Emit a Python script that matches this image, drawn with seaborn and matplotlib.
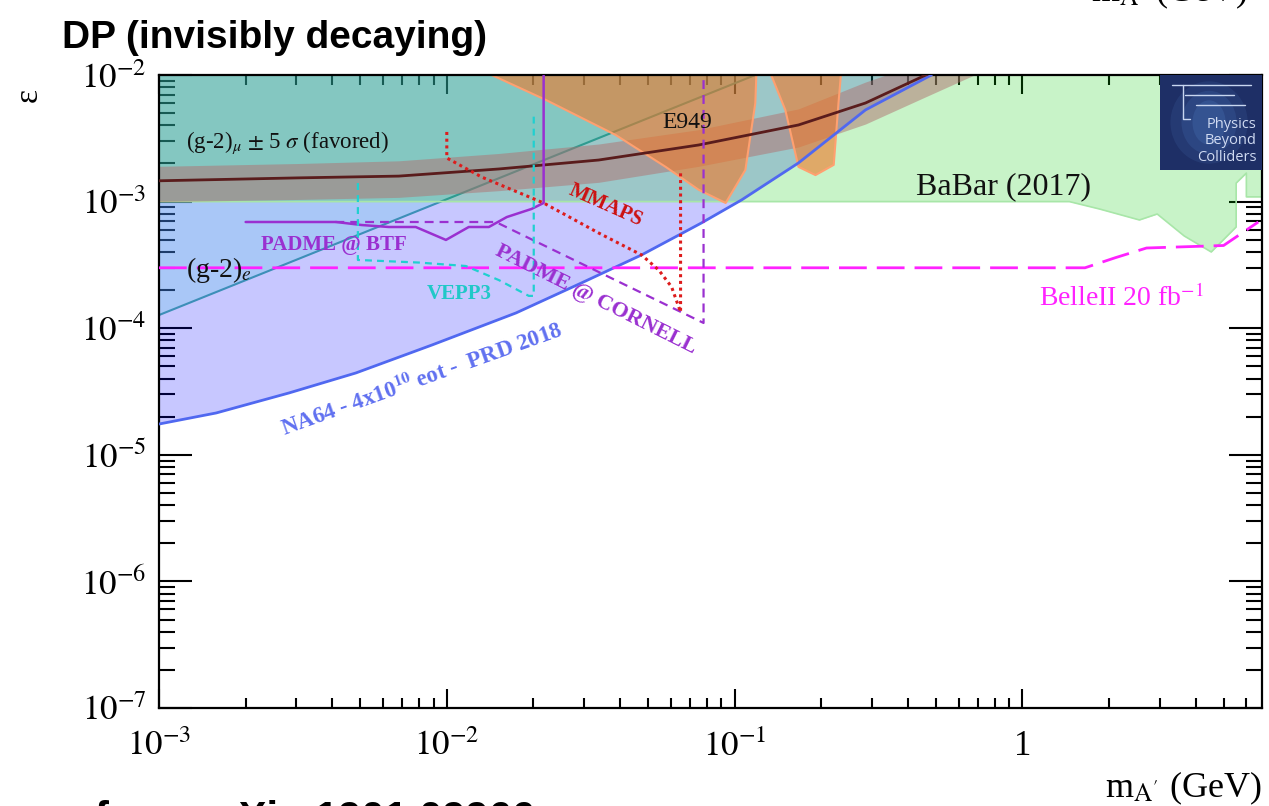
import numpy as np
import pandas as pd
import matplotlib
matplotlib.use("Agg")
import matplotlib.pyplot as plt
import seaborn as sns
from matplotlib.ticker import FixedLocator, FixedFormatter, LogLocator, NullFormatter
from matplotlib.patches import Rectangle, Ellipse

# ---------------- data ----------------
x_ticks = [1e-3, 1e-2, 1e-1, 1.0]
x_tick_labels = [r'$10^{-3}$', r'$10^{-2}$', r'$10^{-1}$', '1']
y_ticks = [1e-7, 1e-6, 1e-5, 1e-4, 1e-3, 1e-2]
y_tick_labels = [r'$10^{-7}$', r'$10^{-6}$', r'$10^{-5}$', r'$10^{-4}$', r'$10^{-3}$', r'$10^{-2}$']

na64_m = [1e-3, 1.58e-3, 2.83e-3, 4.83e-3, 8.87e-3, 0.0174, 0.0294, 0.0475, 0.0767, 0.1057, 0.1667, 0.285, 0.483]
na64_eps = [1.75e-5, 2.14e-5, 3.08e-5, 4.43e-5, 7.36e-5, 1.32e-4, 2.28e-4, 3.79e-4, 6.78e-4, 1.03e-3, 2.02e-3, 5.30e-3, 1.0e-2]

g2e_m = [1e-3, 0.118]
g2e_eps = [1.27e-4, 1.0e-2]

babar_m = [1e-3, 1.456, 1.85, 2.55, 2.94, 3.65, 4.53, 5.53, 5.53, 6.0, 6.0, 6.8]
babar_eps = [1.0e-3, 1.0e-3, 8.75e-4, 7.16e-4, 7.98e-4, 5.35e-4, 4.0e-4, 6.3e-4, 1.40e-3, 1.68e-3, 1.09e-3, 1.09e-3]

gm2mu_m = [1e-3, 3.06e-3, 6.81e-3, 0.01516, 0.0337, 0.075, 0.1667, 0.285, 0.446, 0.68]
gm2mu_center = [1.46e-3, 1.54e-3, 1.59e-3, 1.81e-3, 2.13e-3, 2.80e-3, 4.03e-3, 6.01e-3, 9.64e-3, 1.5e-2]
gm2mu_upper = [1.9e-3, 2.0e-3, 2.1e-3, 2.4e-3, 2.85e-3, 3.7e-3, 5.4e-3, 8.8e-3, 1.25e-2, 2.0e-2]
gm2mu_lower = [1.0e-3, 1.04e-3, 1.08e-3, 1.22e-3, 1.42e-3, 1.9e-3, 2.7e-3, 4.1e-3, 6.5e-3, 1.0e-2]

e949_lobe1_m = [0.01432, 0.0221, 0.0386, 0.0576, 0.075, 0.0931, 0.109, 0.118, 0.119]
e949_lobe1_eps = [1.0e-2, 6.35e-3, 3.36e-3, 1.88e-3, 1.24e-3, 9.75e-4, 1.78e-3, 6.0e-3, 1.0e-2]
e949_lobe2_m = [0.134, 0.150, 0.1667, 0.191, 0.221, 0.2296, 0.234]
e949_lobe2_eps = [1.0e-2, 5.30e-3, 1.88e-3, 1.62e-3, 1.95e-3, 6.0e-3, 1.0e-2]

belle_m = [1e-3, 1.65, 2.1, 2.7, 5.0, 6.6]
belle_eps = [3.0e-4, 3.0e-4, 3.6e-4, 4.3e-4, 4.5e-4, 6.9e-4]

padme_btf_m = [2.0e-3, 4.12e-3, 5.07e-3, 6.29e-3, 7.8e-3, 9.93e-3, 0.01192, 0.0140, 0.01616, 0.0197, 0.0217, 0.0217]
padme_btf_eps = [6.9e-4, 6.9e-4, 6.53e-4, 6.3e-4, 6.3e-4, 4.98e-4, 6.3e-4, 6.3e-4, 7.55e-4, 8.75e-4, 9.75e-4, 1.0e-2]

padme_cornell_m = [4.1e-3, 0.0148, 0.078, 0.078]
padme_cornell_eps = [6.9e-4, 6.9e-4, 1.10e-4, 1.0e-2]

vepp3_m = [4.91e-3, 4.91e-3, 8.0e-3, 0.01164, 0.01516, 0.01927, 0.02005, 0.02005]
vepp3_eps = [1.40e-3, 3.46e-4, 3.30e-4, 3.10e-4, 2.40e-4, 1.80e-4, 1.80e-4, 5.0e-3]

mmaps_m = [0.01, 0.01, 0.01324, 0.0217, 0.0337, 0.0475, 0.0545, 0.0604, 0.0649, 0.0649]
mmaps_eps = [3.55e-3, 2.21e-3, 1.56e-3, 9.75e-4, 5.65e-4, 3.79e-4, 2.88e-4, 2.12e-4, 1.34e-4, 1.78e-3]

EPS_TOP = 1e-2

# ---------------- style ----------------
sns.set_style("ticks")
plt.rcParams['font.family'] = ['Liberation Serif', 'DejaVu Serif']
plt.rcParams['mathtext.fontset'] = 'stix'
plt.rcParams['text.color'] = 'black'
plt.rcParams['axes.labelcolor'] = 'black'
plt.rcParams['xtick.color'] = 'black'
plt.rcParams['ytick.color'] = 'black'

fig = plt.figure(figsize=(12.69, 8.06), dpi=100)
ax = fig.add_axes([159 / 1269, 98 / 806, 1103 / 1269, 633 / 806])
ax.set_xscale('log')
ax.set_yscale('log')

# ---------------- filled regions ----------------
ax.fill_between(na64_m, na64_eps, EPS_TOP, color=(0.0, 0.0, 1.0), alpha=0.22, lw=0, zorder=1.0)
ax.fill_between(g2e_m, g2e_eps, EPS_TOP, color=(100/255, 200/255, 230/255), alpha=0.30, lw=0, zorder=1.05)

def line(mx, ey, **kw):
    df = pd.DataFrame({'m': mx, 'eps': ey})
    sns.lineplot(data=df, x='m', y='eps', sort=False, estimator=None, ax=ax, **kw)

line(g2e_m, g2e_eps, color='#3d8fb8', lw=1.5, zorder=1.07)

ax.fill_between(babar_m, babar_eps, EPS_TOP, color=(0.0, 200/255, 0.0), alpha=0.216, lw=0, zorder=1.1)
line(babar_m, babar_eps, color='#a8e6a8', lw=1.2, zorder=1.12)

ax.fill_between(gm2mu_m, gm2mu_lower, gm2mu_upper, color=(176/255, 112/255, 112/255), alpha=0.5, lw=0, zorder=1.2)

ax.fill(e949_lobe1_m, e949_lobe1_eps, facecolor=(240/255, 120/255, 40/255), alpha=0.6,
        edgecolor='none', zorder=1.3)
ax.fill(e949_lobe2_m, e949_lobe2_eps, facecolor=(240/255, 120/255, 40/255), alpha=0.6,
        edgecolor='none', zorder=1.3)
line(e949_lobe1_m, e949_lobe1_eps, color='#ffa070', lw=1.5, zorder=1.32)
line(e949_lobe2_m, e949_lobe2_eps, color='#ffa070', lw=1.5, zorder=1.32)

# ---------------- lines ----------------
line(na64_m, na64_eps, color='#5068f0', lw=2.0, zorder=3)
line(gm2mu_m, gm2mu_center, color='#5a1c1c', lw=2.0, zorder=3)
line(belle_m, belle_eps, color='#ff22ff', lw=2.0, linestyle=(0, (10, 3.6)), zorder=3)
line(padme_btf_m, padme_btf_eps, color='#9a30d0', lw=1.8, zorder=3)
line(padme_cornell_m, padme_cornell_eps, color='#9a30d0', lw=1.6, linestyle=(0, (4, 2.7)), zorder=3)
line(vepp3_m, vepp3_eps, color='#20d0d0', lw=1.6, linestyle=(0, (3.1, 2.3)), zorder=3)
line(mmaps_m, mmaps_eps, color='#dd1c1c', lw=2.2, linestyle=(0, (1, 1.2)), zorder=3)

# ---------------- labels on the plot ----------------
ax.text(1.24e-3, 2.65e-3, r'(g-2)$_{\mu}$ $\pm$ 5 $\sigma$ (favored)', fontsize=16.5,
        ha='left', va='baseline', color='#111111', zorder=4)
ax.text(1.24e-3, 2.55e-4, r'(g-2)$_{e}$', fontsize=20, ha='left', va='baseline',
        color='#111111', zorder=4)
ax.text(4.05e-3, 4.54e-4, 'PADME @ BTF', fontsize=15, fontweight='bold', color='#9a30d0',
        ha='center', va='center', zorder=4)
ax.text(0.01101, 1.86e-4, 'VEPP3', fontsize=15, fontweight='bold', color='#20c8c8',
        ha='center', va='center', zorder=4)
ax.text(0.0357, 9.4e-4, 'MMAPS', fontsize=15, fontweight='bold', color='#cc1111',
        ha='center', va='center', rotation=-24, rotation_mode='anchor', zorder=4)
ax.text(0.0687, 4.18e-3, 'E949', fontsize=17, color='#111111', ha='center', va='center', zorder=4)
ax.text(0.859, 1.30e-3, 'BaBar (2017)', fontsize=23, color='#111111', ha='center', va='center', zorder=4)
ax.text(2.21, 1.73e-4, r'BelleII 20 fb$^{-1}$', fontsize=20, color='#ff22ff',
        ha='center', va='center', zorder=4)
ax.text(0.0329, 1.67e-4, 'PADME @ CORNELL', fontsize=16, fontweight='bold', color='#9a30d0',
        ha='center', va='center', rotation=-26.5, rotation_mode='anchor', zorder=4)
ax.text(8.19e-3, 3.90e-5, r'NA64 - 4x10$^{\mathbf{10}}$ eot -  PRD 2018', fontsize=16.5,
        fontweight='bold', color='#6070f0', ha='center', va='center', rotation=19.7,
        rotation_mode='anchor', zorder=4)

# ---------------- logo ----------------
ax.add_patch(Rectangle((0.9075, 0.85), 0.0925, 0.15, transform=ax.transAxes,
                       facecolor='#1e2f66', edgecolor='none', zorder=6))
for (w, h, a) in [(0.07, 0.13, 0.12), (0.05, 0.10, 0.15), (0.03, 0.07, 0.18)]:
    ax.add_patch(Ellipse((0.952, 0.925), w, h, transform=ax.transAxes,
                         facecolor='#5a8fd8', edgecolor='none', alpha=a, zorder=6.1))
for (x0, x1, yy) in [(0.918, 0.99, 0.984), (0.93, 0.975, 0.968), (0.94, 0.985, 0.952)]:
    ax.plot([x0, x1], [yy, yy], transform=ax.transAxes, color='#c8d6f0', lw=1.0, zorder=6.2)
ax.plot([0.928, 0.928, 0.935], [0.984, 0.93, 0.93], transform=ax.transAxes,
        color='#c8d6f0', lw=1.0, zorder=6.2)
ax.text(0.995, 0.896, 'Physics\nBeyond\nColliders', transform=ax.transAxes, ha='right',
        va='center', fontsize=10.5, color='#d0dbf2', family='Open Sans',
        linespacing=1.15, zorder=6.3)

# ---------------- axes ----------------
ax.set_xlim(1e-3, 6.8)
ax.set_ylim(1e-7, 1e-2)
ax.set_xlabel('')
ax.set_ylabel('')
ax.xaxis.set_major_locator(FixedLocator(x_ticks))
ax.xaxis.set_major_formatter(FixedFormatter(x_tick_labels))
ax.yaxis.set_major_locator(FixedLocator(y_ticks))
ax.yaxis.set_major_formatter(FixedFormatter(y_tick_labels))
ax.xaxis.set_minor_locator(LogLocator(base=10, subs=np.arange(2, 10) * 1.0, numticks=100))
ax.yaxis.set_minor_locator(LogLocator(base=10, subs=np.arange(2, 10) * 1.0, numticks=100))
ax.xaxis.set_minor_formatter(NullFormatter())
ax.yaxis.set_minor_formatter(NullFormatter())
ax.set_axisbelow(True)
ax.tick_params(axis='both', which='both', direction='in', top=True, right=True,
               width=1.5, colors='black')
ax.tick_params(axis='x', which='major', length=14, pad=16, labelsize=25)
ax.tick_params(axis='x', which='minor', length=7)
ax.tick_params(axis='y', which='major', length=24, pad=9, labelsize=25)
ax.tick_params(axis='y', which='minor', length=11.5)
for s in ax.spines.values():
    s.set_linewidth(1.6)
    s.set_color('black')
    s.set_visible(True)

# ---------------- figure texts ----------------
fig.text(62 / 1269, 1 - 48 / 806, 'DP (invisibly decaying)', family='Liberation Sans',
         fontweight='bold', fontsize=28, va='baseline', ha='left', color='black')
fig.text(28 / 1269, 1 - 95 / 806, 'ε', rotation=90, fontsize=24, ha='center', va='center')
fig.text(1262 / 1269, 1 - 797 / 806, r"m$_{\mathrm{A'}}$ (GeV)", ha='right', va='baseline', fontsize=26)
fig.text(1248 / 1269, 1 - 1 / 806, r"m$_{\mathrm{A'}}$ (GeV)", ha='right', va='baseline', fontsize=26)
fig.text(95 / 1269, 1 - 831 / 806, 'from arXiv:1901.09966', family='Liberation Sans',
         fontweight='bold', fontsize=30, va='baseline', ha='left', color='black')

fig.savefig('out.png', dpi=100)
